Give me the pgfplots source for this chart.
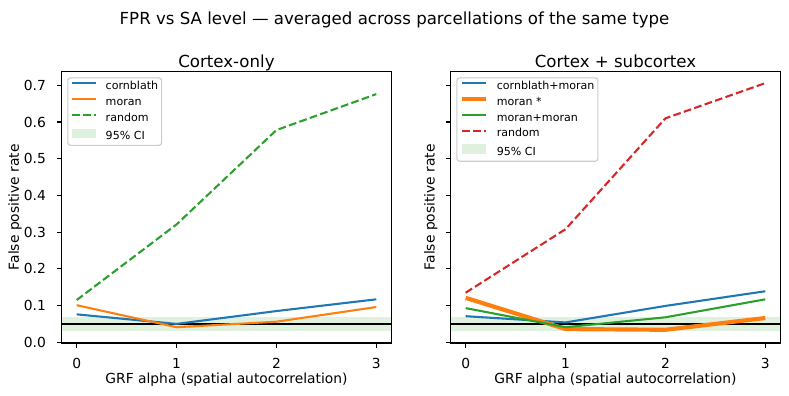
\documentclass[border=0pt]{standalone}
\usepackage{fontspec}
\setmainfont{DejaVu Sans}
\usepackage{pgfplots}
\pgfplotsset{compat=1.18}

\definecolor{tabblue}{HTML}{1F77B4}
\definecolor{taborange}{HTML}{FF7F0E}
\definecolor{tabgreen}{HTML}{2CA02C}
\definecolor{tabred}{HTML}{D62728}
\definecolor{legframe}{HTML}{CCCCCC}

% line handles in the legends
\pgfplotsset{
  legend image code/.code={\draw[#1] (0bp,2.5bp) -- (17.3bp,2.5bp);},
}

\pgfplotsset{
  fpr/.style={
    scale only axis, width=237.3bp, height=195.6bp,
    xmin=-0.15, xmax=3.15, ymin=-0.002, ymax=0.738,
    xtick={0,1,2,3},
    ytick={0,0.1,0.2,0.3,0.4,0.5,0.6,0.7},
    tick pos=left, tick align=outside, major tick length=3.5bp,
    every tick/.style={black, line width=0.8bp},
    axis line style={line width=0.8bp},
    axis on top,
    /pgf/number format/assume math mode=true,
    ticklabel style={font=\fontsize{10}{12}\selectfont},
    xticklabel style={anchor=base, inner sep=0pt, yshift=-14.6bp},
    yticklabel style={anchor=east, inner sep=0pt, xshift=-7.7bp,
      /pgf/number format/.cd, fixed, fixed zerofill, precision=1},
    label style={font=\fontsize{10}{12}\selectfont},
    xlabel={GRF alpha (spatial autocorrelation)},
    ylabel={False positive rate},
    xlabel style={at={(axis description cs:0.5,0)}, anchor=base,
      inner sep=0pt, yshift=-29.2bp},
    every axis title shift=0pt,
    title style={at={(axis description cs:0.5,1)}, anchor=base,
      inner sep=0pt, yshift=3bp, font=\fontsize{12}{14}\selectfont},
    legend cell align=left,
    legend style={at={(axis description cs:0,1)}, anchor=north west,
      xshift=4bp, yshift=-4.3bp,
      draw=legframe, line width=0.8bp, rounded corners=2bp,
      fill=white, fill opacity=0.8, text opacity=1,
      font=\fontsize{8}{9.6}\selectfont,
      inner xsep=2.5bp, inner ysep=2.3bp, row sep=3.4bp,
      nodes={inner sep=0pt, text height=6bp, text depth=2bp},
      /tikz/every odd column/.append style={column sep=6bp}},
  },
  ciimage/.style={legend image code/.code={%
    \path[sharp corners, draw=none, fill=tabgreen, fill opacity=0.15]
      (0bp,-1bp) rectangle (17.3bp,5.8bp);}},
}

\begin{document}
\begin{tikzpicture}
\useasboundingbox (0,0) rectangle (568.08bp,285.12bp);

\node[anchor=base, inner sep=0pt, font=\fontsize{12}{14}\selectfont]
  at (284.04bp,267.8bp)
  {FPR vs SA level — averaged across parcellations of the same type};

% cortical parcellations
\begin{axis}[fpr, at={(44.42bp,38.16bp)}, anchor=south west,
  title={Cortex-only},
  ylabel style={at={(axis description cs:-0.1205,0.5)}, anchor=south,
    inner sep=0pt}]
  \addplot[fill=tabgreen, fill opacity=0.15, draw=none, forget plot]
    coordinates {(-0.15,0.031) (3.15,0.031) (3.15,0.069) (-0.15,0.069)} -- cycle;
  \addplot[black, line width=1bp, forget plot]
    coordinates {(-0.15,0.05) (3.15,0.05)};
  \addplot[tabblue, line width=1.5bp]
    coordinates {(0,0.076) (1,0.050) (2,0.085) (3,0.117)};
  \addlegendentry{cornblath}
  \addplot[taborange, line width=1.5bp]
    coordinates {(0,0.101) (1,0.041) (2,0.056) (3,0.096)};
  \addlegendentry{moran}
  \addplot[tabgreen, line width=1.5bp, dash pattern=on 5.55bp off 2.4bp]
    coordinates {(0,0.115) (1,0.321) (2,0.578) (3,0.676)};
  \addlegendentry{random}
  \addlegendimage{ciimage}
  \addlegendentry{95\% CI}
\end{axis}

% cortical + subcortical parcellations
\begin{axis}[fpr, at={(324.5bp,38.16bp)}, anchor=south west,
  title={Cortex + subcortex}, yticklabels={},
  ylabel style={at={(axis description cs:-0.0395,0.5)}, anchor=south,
    inner sep=0pt}]
  \addplot[fill=tabgreen, fill opacity=0.15, draw=none, forget plot]
    coordinates {(-0.15,0.031) (3.15,0.031) (3.15,0.069) (-0.15,0.069)} -- cycle;
  \addplot[black, line width=1bp, forget plot]
    coordinates {(-0.15,0.05) (3.15,0.05)};
  \addplot[tabblue, line width=1.5bp]
    coordinates {(0,0.071) (1,0.054) (2,0.099) (3,0.139)};
  \addlegendentry{cornblath+moran}
  \addplot[taborange, line width=3bp]
    coordinates {(0,0.121) (1,0.036) (2,0.034) (3,0.066)};
  \addlegendentry{moran *}
  \addplot[tabgreen, line width=1.5bp]
    coordinates {(0,0.093) (1,0.041) (2,0.068) (3,0.117)};
  \addlegendentry{moran+moran}
  \addplot[tabred, line width=1.5bp, dash pattern=on 5.55bp off 2.4bp]
    coordinates {(0,0.135) (1,0.308) (2,0.610) (3,0.706)};
  \addlegendentry{random}
  \addlegendimage{ciimage}
  \addlegendentry{95\% CI}
\end{axis}
\end{tikzpicture}
\end{document}
